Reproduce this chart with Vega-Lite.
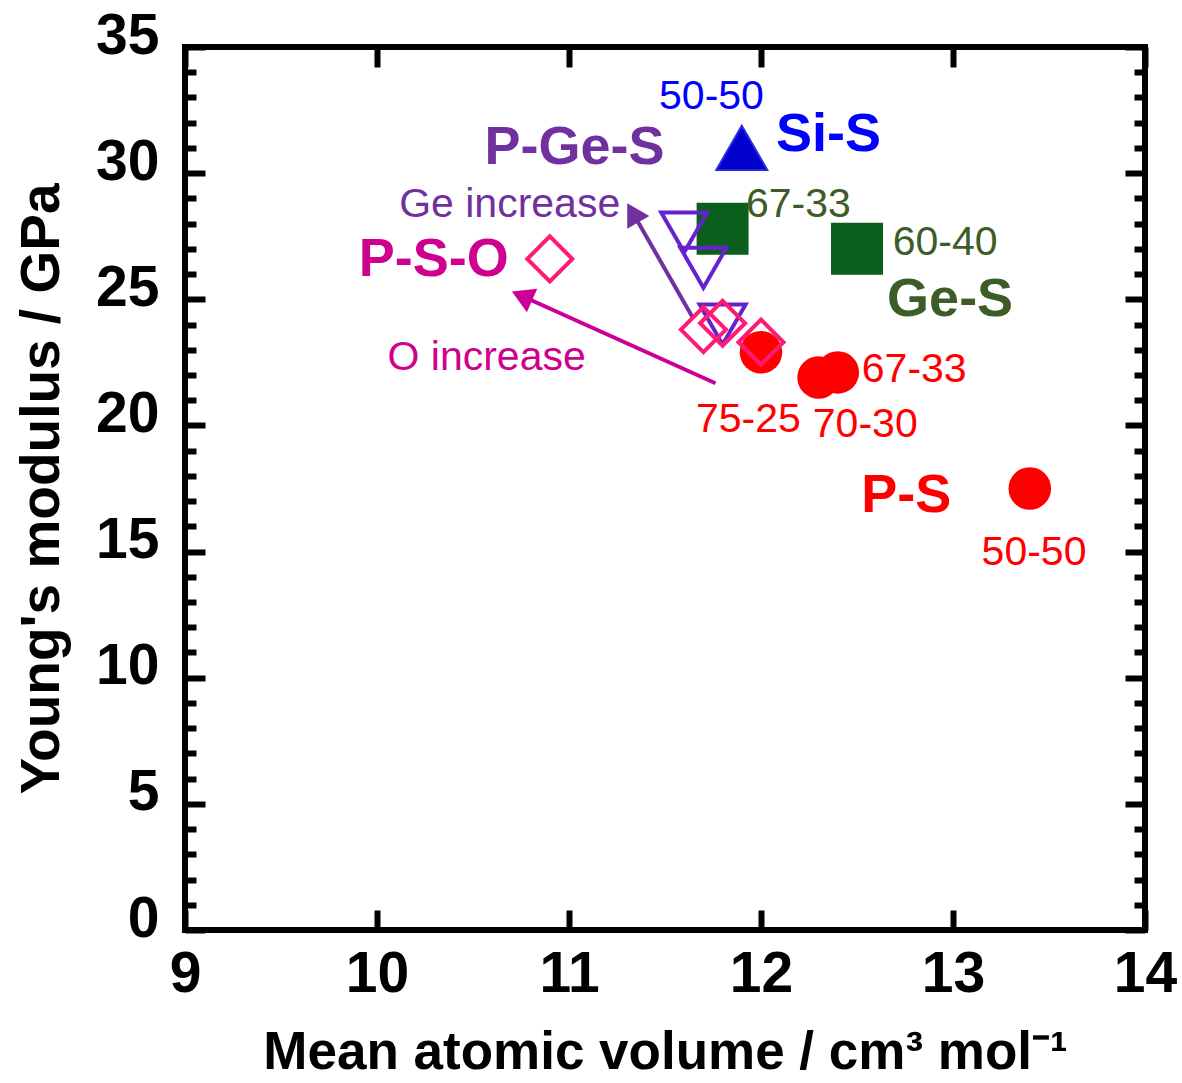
{
  "$schema": "https://vega.github.io/schema/vega-lite/v6.json",
  "width": 960,
  "height": 883,
  "autosize": {"type": "none"},
  "padding": {"left": 185, "top": 47, "right": 37, "bottom": 153},
  "background": "white",
  "config": {
    "view": {"stroke": "black", "strokeWidth": 6},
    "font": "Liberation Sans",
    "axis": {
      "grid": false,
      "domain": false,
      "labelFlush": false,
      "labelOverlap": false,
      "tickColor": "black",
      "tickWidth": 6,
      "labelFont": "Liberation Sans",
      "labelFontWeight": "bold",
      "labelFontSize": 57,
      "labelColor": "black",
      "titleFont": "Liberation Sans",
      "titleFontWeight": "bold",
      "titleFontSize": 55,
      "titleColor": "black"
    }
  },
  "datasets": {
    "points": [
      {"series": "Ge-S", "x": 11.8, "y": 27.8},
      {"series": "Ge-S", "x": 12.5, "y": 27.0},
      {"series": "Si-S", "x": 11.9, "y": 31.0},
      {"series": "P-S", "x": 12.0, "y": 22.9},
      {"series": "P-S", "x": 12.3, "y": 21.9},
      {"series": "P-S", "x": 12.4, "y": 22.1},
      {"series": "P-S", "x": 13.4, "y": 17.5},
      {"series": "P-Ge-S", "x": 11.6, "y": 27.65},
      {"series": "P-Ge-S", "x": 11.7, "y": 26.25},
      {"series": "P-Ge-S", "x": 11.8, "y": 24.0},
      {"series": "P-S-O", "x": 10.9, "y": 26.6},
      {"series": "P-S-O", "x": 11.7, "y": 23.8},
      {"series": "P-S-O", "x": 11.8, "y": 24.05},
      {"series": "P-S-O", "x": 12.0, "y": 23.3}
    ],
    "arrows": [
      {"arrow": "Ge", "x": 11.642, "y": 24.31, "x2": 11.332, "y2": 28.43},
      {"arrow": "O", "x": 11.763, "y": 21.67, "x2": 10.755, "y2": 25.13}
    ],
    "tags": [
      {"text": "50-50", "series": "Si-S", "x": 11.742, "y": 33.02},
      {"text": "Ge increase", "series": "P-Ge-S", "x": 10.691, "y": 28.74},
      {"text": "67-33", "series": "Ge-S", "x": 12.195, "y": 28.74},
      {"text": "60-40", "series": "Ge-S", "x": 12.959, "y": 27.23},
      {"text": "O increase", "series": "P-S-O", "x": 10.571, "y": 22.67},
      {"text": "67-33", "series": "P-S", "x": 12.798, "y": 22.2},
      {"text": "75-25", "series": "P-S", "x": 11.934, "y": 20.21},
      {"text": "70-30", "series": "P-S", "x": 12.543, "y": 20.02},
      {"text": "50-50", "series": "P-S", "x": 13.422, "y": 14.94}
    ],
    "names": [
      {"text": "Si-S", "series": "Si-S", "x": 12.351, "y": 31.51},
      {"text": "P-Ge-S", "series": "P-Ge-S", "x": 11.029, "y": 30.99},
      {"text": "Ge-S", "series": "Ge-S", "x": 12.985, "y": 24.97},
      {"text": "P-S-O", "series": "P-S-O", "x": 10.296, "y": 26.56},
      {"text": "P-S", "series": "P-S", "x": 12.757, "y": 17.2}
    ]
  },
  "resolve": {
    "axis": {"x": "independent", "y": "independent"},
    "scale": {"color": "independent"}
  },
  "layer": [
    {
      "data": {"name": "points"},
      "transform": [{"filter": "datum.series === 'Ge-S'"}],
      "mark": {"type": "point", "shape": "square", "filled": true, "size": 2700, "color": "#0b5e1c", "opacity": 1},
      "encoding": {
        "x": {
          "field": "x", "type": "quantitative",
          "scale": {"domain": [9, 14], "nice": false, "zero": false},
          "axis": {
            "orient": "bottom",
            "values": [9, 10, 11, 12, 13, 14],
            "tickSize": -20,
            "labelPadding": 36,
            "title": "Mean atomic volume / cm³ mol⁻¹",
            "titleFontSize": 53,
            "titlePadding": 24
          }
        },
        "y": {
          "field": "y", "type": "quantitative",
          "scale": {"domain": [0, 35], "nice": false, "zero": false},
          "axis": {
            "orient": "left",
            "values": [0, 1, 2, 3, 4, 5, 6, 7, 8, 9, 10, 11, 12, 13, 14, 15, 16, 17, 18, 19, 20, 21, 22, 23, 24, 25, 26, 27, 28, 29, 30, 31, 32, 33, 34, 35],
            "labelExpr": "datum.value % 5 === 0 ? datum.label : ''",
            "tickSize": {"condition": {"test": "datum.value % 5 === 0", "value": -20}, "value": -11},
            "labelPadding": 46,
            "labelOffset": -11,
            "title": "Young's modulus / GPa",
            "titlePadding": 25
          }
        }
      }
    },
    {
      "data": {"name": "points"},
      "mark": {"type": "point", "opacity": 0},
      "encoding": {
        "x": {
          "field": "x", "type": "quantitative",
          "scale": {"domain": [9, 14], "nice": false, "zero": false},
          "axis": {"orient": "top", "values": [9, 10, 11, 12, 13, 14], "tickSize": -20, "labels": false, "title": null}
        },
        "y": {
          "field": "y", "type": "quantitative",
          "scale": {"domain": [0, 35], "nice": false, "zero": false},
          "axis": {
            "orient": "right",
            "values": [0, 1, 2, 3, 4, 5, 6, 7, 8, 9, 10, 11, 12, 13, 14, 15, 16, 17, 18, 19, 20, 21, 22, 23, 24, 25, 26, 27, 28, 29, 30, 31, 32, 33, 34, 35],
            "tickSize": {"condition": {"test": "datum.value % 5 === 0", "value": -20}, "value": -11},
            "labels": false,
            "title": null
          }
        }
      }
    },
    {
      "data": {"name": "points"},
      "transform": [{"filter": "datum.series === 'Si-S'"}],
      "mark": {"type": "point", "shape": "triangle-up", "filled": true, "size": 2600, "fill": "#0000cc", "stroke": "#2a2ae6", "strokeWidth": 2, "opacity": 1},
      "encoding": {
        "x": {"field": "x", "type": "quantitative", "axis": null},
        "y": {"field": "y", "type": "quantitative", "axis": null}
      }
    },
    {
      "data": {"name": "points"},
      "transform": [{"filter": "datum.series === 'P-S'"}],
      "mark": {"type": "point", "shape": "circle", "filled": true, "size": 1810, "color": "#ff0000", "opacity": 1},
      "encoding": {
        "x": {"field": "x", "type": "quantitative", "axis": null},
        "y": {"field": "y", "type": "quantitative", "axis": null}
      }
    },
    {
      "data": {"name": "arrows"},
      "transform": [{"filter": "datum.arrow === 'Ge'"}],
      "mark": {"type": "rule", "color": "#7030a0", "strokeWidth": 4},
      "encoding": {
        "x": {"field": "x", "type": "quantitative", "axis": null},
        "y": {"field": "y", "type": "quantitative", "axis": null},
        "x2": {"field": "x2"},
        "y2": {"field": "y2"}
      }
    },
    {
      "data": {"name": "arrows"},
      "transform": [{"filter": "datum.arrow === 'Ge'"}],
      "mark": {"type": "point", "shape": "triangle-up", "filled": true, "size": 650, "color": "#7030a0", "opacity": 1, "angle": 330},
      "encoding": {
        "x": {"field": "x2", "type": "quantitative", "axis": null},
        "y": {"field": "y2", "type": "quantitative", "axis": null}
      }
    },
    {
      "data": {"name": "arrows"},
      "transform": [{"filter": "datum.arrow === 'O'"}],
      "mark": {"type": "rule", "color": "#cc0099", "strokeWidth": 4},
      "encoding": {
        "x": {"field": "x", "type": "quantitative", "axis": null},
        "y": {"field": "y", "type": "quantitative", "axis": null},
        "x2": {"field": "x2"},
        "y2": {"field": "y2"}
      }
    },
    {
      "data": {"name": "arrows"},
      "transform": [{"filter": "datum.arrow === 'O'"}],
      "mark": {"type": "point", "shape": "triangle-up", "filled": true, "size": 650, "color": "#cc0099", "opacity": 1, "angle": 294},
      "encoding": {
        "x": {"field": "x2", "type": "quantitative", "axis": null},
        "y": {"field": "y2", "type": "quantitative", "axis": null}
      }
    },
    {
      "data": {"name": "points"},
      "transform": [{"filter": "datum.series === 'P-Ge-S'"}],
      "mark": {"type": "point", "shape": "triangle-down", "filled": false, "size": 2116, "stroke": "#6622cc", "strokeWidth": 4, "opacity": 1},
      "encoding": {
        "x": {"field": "x", "type": "quantitative", "axis": null},
        "y": {"field": "y", "type": "quantitative", "axis": null}
      }
    },
    {
      "data": {"name": "points"},
      "transform": [{"filter": "datum.series === 'P-S-O'"}],
      "mark": {"type": "point", "shape": "diamond", "filled": false, "size": 2025, "stroke": "#ff1a75", "strokeWidth": 4, "opacity": 1},
      "encoding": {
        "x": {"field": "x", "type": "quantitative", "axis": null},
        "y": {"field": "y", "type": "quantitative", "axis": null}
      }
    },
    {
      "data": {"name": "tags"},
      "mark": {"type": "text", "font": "Liberation Sans", "fontSize": 41, "align": "center", "baseline": "middle"},
      "encoding": {
        "x": {"field": "x", "type": "quantitative", "axis": null},
        "y": {"field": "y", "type": "quantitative", "axis": null},
        "text": {"field": "text"},
        "color": {
          "field": "series", "type": "nominal", "legend": null,
          "scale": {"domain": ["Si-S", "Ge-S", "P-Ge-S", "P-S-O", "P-S"], "range": ["#0000ff", "#3d5c27", "#7030a0", "#d0008f", "#ff0000"]}
        }
      }
    },
    {
      "data": {"name": "names"},
      "mark": {"type": "text", "font": "Liberation Sans", "fontWeight": "bold", "fontSize": 54, "align": "center", "baseline": "middle"},
      "encoding": {
        "x": {"field": "x", "type": "quantitative", "axis": null},
        "y": {"field": "y", "type": "quantitative", "axis": null},
        "text": {"field": "text"},
        "color": {
          "field": "series", "type": "nominal", "legend": null,
          "scale": {"domain": ["Si-S", "Ge-S", "P-Ge-S", "P-S-O", "P-S"], "range": ["#0000ff", "#3d5c27", "#7030a0", "#d0008f", "#ff0000"]}
        }
      }
    }
  ]
}
